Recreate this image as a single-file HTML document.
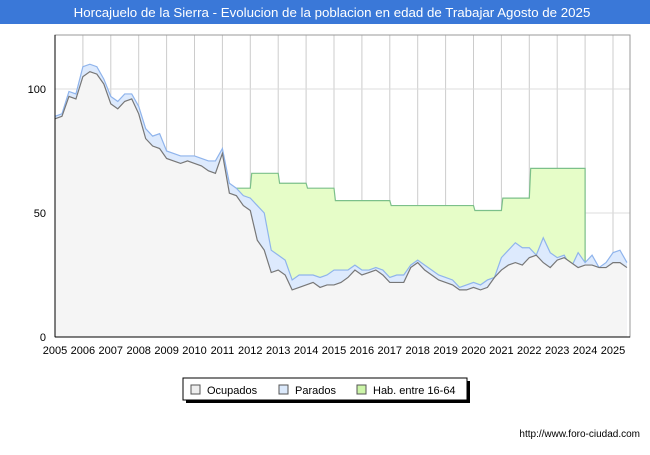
<!DOCTYPE html>
<html><head><meta charset="utf-8"><style>
body{margin:0;width:650px;height:450px;background:#fff;font-family:"Liberation Sans","DejaVu Sans",sans-serif;overflow:hidden}
</style></head><body>
<svg id="c" width="650" height="450" xmlns="http://www.w3.org/2000/svg">
<rect x="0" y="0" width="650" height="24" fill="#3a78d8"/>
<text x="332" y="17" text-anchor="middle" fill="#fff" font-size="13.3">Horcajuelo de la Sierra - Evolucion de la poblacion en edad de Trabajar Agosto de 2025</text>
<g id="plot"></g>
<g>
<rect x="186" y="381" width="284" height="22" fill="#000"/>
<rect x="183" y="378" width="284" height="22" fill="#fff" stroke="#000" stroke-width="1"/>
<rect x="191" y="385" width="9" height="9" fill="#eee" stroke="#555"/>
<text x="207" y="394" font-size="11">Ocupados</text>
<rect x="279" y="385" width="9" height="9" fill="#dbe9fb" stroke="#555"/>
<text x="295" y="394" font-size="11">Parados</text>
<rect x="357" y="385" width="9" height="9" fill="#ccf5a8" stroke="#555"/>
<text x="373" y="394" font-size="11">Hab. entre 16-64</text>
</g>
<text x="640" y="437" text-anchor="end" font-size="10" fill="#000">http://www.foro-ciudad.com</text>
</svg>
<script>
const years=[2005,2006,2007,2008,2009,2010,2011,2012,2013,2014,2015,2016,2017,2018,2019,2020,2021,2022,2023,2024,2025];
const yTicks=[0,50,100];
const ocupados=[88,89,97,96,105,107,106,102,94,92,95,96,90,80,77,76,72,71,70,71,70,69,67,66,74,58,57,53,51,39,35,26,27,25,19,20,21,22,20,21,21,22,24,27,25,26,27,25,22,22,22,28,30,27,25,23,22,21,19,19,20,19,20,24,27,29,30,29,32,33,30,28,31,32,30,28,29,29,28,28,30,30,28];
const total=[89,90,99,98,109,110,109,104,97,95,98,98,93,84,81,82,75,74,73,73,73,72,71,71,76,62,60,57,56,53,50,35,33,31,23,25,25,25,24,25,27,27,27,29,27,27,28,27,24,25,25,29,31,29,27,25,24,23,20,21,22,21,23,24,32,35,38,36,36,33,40,34,32,33,28,34,30,33,28,30,34,35,30];
const habYears=[2011,2012,2013,2014,2015,2016,2017,2018,2019,2020,2021,2022,2023];
const hab=[60,66,62,60,55,55,53,53,53,51,56,68,68];
const X0=55,X1=630,Y0=337,Y1=35;
const x=t=>X0+(t-2005)*27.9;
const y=v=>Y0-v*2.48;
const ns="http://www.w3.org/2000/svg";
const g=document.getElementById('plot');
function mk(tag,attrs){const e=document.createElementNS(ns,tag);for(const k in attrs)e.setAttribute(k,attrs[k]);g.appendChild(e);return e;}
const bg=mk('rect',{x:X0,y:Y1,width:X1-X0,height:Y0-Y1,fill:'#fff'});


years.forEach(yr=>{const l=mk('line',{x1:x(yr),x2:x(yr),y1:Y1,y2:Y0,stroke:'#ccc'});


const t=mk('text',{x:x(yr),y:Y0+17,'text-anchor':'middle','font-size':11});t.textContent=yr;

});
yTicks.forEach(v=>{if(v>0){const l=mk('line',{x1:X0,x2:X1,y1:y(v),y2:y(v),stroke:'#ddd'});

}
const t=mk('text',{x:X0-9,y:y(v)+4,'text-anchor':'end','font-size':11});t.textContent=v;

});
const tq=i=>2005+i*0.25;
function interp(arr,t){const i=(t-2005)/0.25;const a=Math.floor(i),b=Math.min(a+1,arr.length-1);const f=i-a;return arr[a]*(1-f)+arr[b]*f;}
let hp=[];habYears.forEach((yr,i)=>{const s=i==0?yr+0.3:yr+0.05;hp.push([x(s),y(hab[i])]);hp.push([x(yr+1),y(hab[i])]);});
const habEnd=habYears[habYears.length-1]+1;
let lower=[];for(let t=habEnd;t>=2011.3-0.001;t-=0.25)lower.push([x(t),y(interp(total,t))]);
const habFill=mk('polygon',{points:hp.concat(lower).map(p=>p.join(',')).join(' '),fill:'#e6fdc8'});


const habLine=mk('polyline',{points:hp.map(p=>p.join(',')).join(' ')+' '+x(habEnd)+','+y(interp(total,habEnd)),fill:'none',stroke:'#7cc08a','stroke-width':1.2});


const tp=total.map((v,i)=>[x(tq(i)),y(v)]);
const op=ocupados.map((v,i)=>[x(tq(i)),y(v)]);
const xe=x(tq(total.length-1));
const pf=mk('polygon',{points:tp.map(p=>p.join(',')).join(' ')+` ${xe},${Y0} ${X0},${Y0}`,fill:'#ddeafd'});


const pl=mk('polyline',{points:tp.map(p=>p.join(',')).join(' '),fill:'none',stroke:'#8fb4ec','stroke-width':1.2});


const of=mk('polygon',{points:op.map(p=>p.join(',')).join(' ')+` ${xe},${Y0} ${X0},${Y0}`,fill:'#f5f5f5'});


const ol=mk('polyline',{points:op.map(p=>p.join(',')).join(' '),fill:'none',stroke:'#777','stroke-width':1.2});


const fr=mk('rect',{x:X0,y:Y1,width:X1-X0,height:Y0-Y1,fill:'none',stroke:'#999'});


const ax=mk('line',{x1:X0,x2:X0,y1:Y1,y2:Y0,stroke:'#000'});


const ax2=mk('line',{x1:X0,x2:X1,y1:Y0,y2:Y0,stroke:'#000'});


</script>
</body></html>
